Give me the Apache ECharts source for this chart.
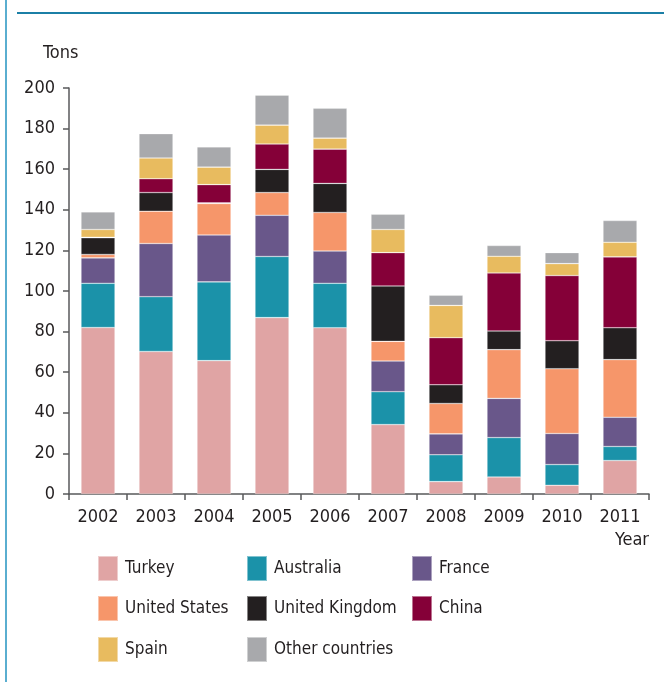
<!DOCTYPE html>
<html>
<head>
<meta charset="utf-8">
<script src="https://cdn.jsdelivr.net/npm/echarts@6/dist/echarts.min.js"></script>
<style>
  html, body { margin: 0; padding: 0; background: #fff; }
  #main { width: 664px; height: 682px; }
</style>
</head>
<body>
<div id="main"></div>
<script>
// tons per year
const years = ['2002', '2003', '2004', '2005', '2006', '2007', '2008', '2009', '2010', '2011'];
const turkey       = [82.0, 70.2, 65.7, 86.9, 81.9, 34.2,  6.1,  8.4,  4.3, 16.5];
const australia    = [21.8, 27.0, 38.8, 30.1, 21.9, 16.2, 13.2, 19.4, 10.2,  6.9];
const france       = [12.5, 26.2, 23.1, 20.3, 15.9, 15.1, 10.3, 19.3, 15.3, 14.4];
const unitedStates = [ 1.7, 15.9, 15.5, 11.2, 19.0,  9.7, 15.0, 24.0, 31.9, 28.4];
const unitedKingdom= [ 8.2,  9.2,  0.3, 11.4, 14.3, 27.3,  9.2,  9.2, 13.8, 15.7];
const china        = [ 0.3,  6.8,  9.0, 12.5, 16.9, 16.4, 23.2, 28.6, 32.1, 34.9];
const spain        = [ 3.8, 10.2,  8.6,  9.3,  5.4, 11.4, 15.9,  8.2,  5.9,  7.2];
const others       = [ 8.7, 12.0, 10.0, 14.8, 14.7,  7.5,  5.0,  5.3,  5.4, 10.7];

const names  = ['Turkey', 'Australia', 'France', 'United States', 'United Kingdom', 'China', 'Spain', 'Other countries'];
const values = [turkey, australia, france, unitedStates, unitedKingdom, china, spain, others];
const colors = ['#e0a4a4', '#1b92a9', '#69578a', '#f6966a', '#231f20', '#850038', '#e8bb5f', '#a8a9ac'];

const FONT = '"Liberation Sans Narrow", "DejaVu Sans Condensed", sans-serif';
const TXT = '#231f20';

// legend slots: [left, top]
const slots = [
  [97, 555], [246, 555], [411, 555],
  [97, 595], [246, 595], [411, 595],
  [97, 636], [246, 636]
];

const chart = echarts.init(document.getElementById('main'));

const series = names.map((n, i) => ({
  name: n,
  type: 'bar',
  stack: 'total',
  data: values[i],
  barWidth: 34,
  itemStyle: { color: colors[i], borderColor: 'rgba(255,255,255,0.45)', borderWidth: 0.6 },
  emphasis: { disabled: true }
}));

const legends = names.map((n, i) => ({
  data: [n],
  left: slots[i][0],
  top: slots[i][1],
  padding: 0,
  orient: 'horizontal',
  icon: 'rect',
  itemWidth: 20,
  itemHeight: 25,
  itemGap: 0,
  selectedMode: false,
  textStyle: { fontFamily: FONT, fontSize: 17, color: TXT, padding: [0, 0, 0, 2] }
}));

chart.setOption({
  animation: false,
  textStyle: { fontFamily: FONT },
  color: colors,
  legend: legends,
  grid: { left: 69, right: 15, top: 88, bottom: 188, containLabel: false },
  xAxis: {
    type: 'category',
    data: years,
    name: 'Year',
    nameLocation: 'end',
    nameGap: 0,
    nameTextStyle: { fontFamily: FONT, fontSize: 18, color: TXT, align: 'right', verticalAlign: 'top', padding: [37, 0, 0, 0] },
    axisLine: { lineStyle: { color: '#58595b', width: 1.5 } },
    axisTick: { show: true, length: 6, inside: false, lineStyle: { color: '#58595b', width: 1.5 } },
    axisLabel: { fontFamily: FONT, fontSize: 18, color: TXT, margin: 14 }
  },
  yAxis: {
    type: 'value',
    min: 0,
    max: 200,
    interval: 20,
    name: 'Tons',
    nameLocation: 'end',
    nameGap: 26,
    nameTextStyle: { fontFamily: FONT, fontSize: 18, color: TXT, align: 'left', padding: [0, 0, 0, -26] },
    axisLine: { show: true, lineStyle: { color: '#58595b', width: 1.5 } },
    axisTick: { show: true, length: 6, lineStyle: { color: '#58595b', width: 1.5 } },
    splitLine: { show: false },
    axisLabel: { fontFamily: FONT, fontSize: 18, color: TXT, margin: 14 }
  },
  graphic: [
    { type: 'rect', shape: { x: 5, y: 0, width: 2, height: 682 }, style: { fill: '#5aaed0' }, silent: true },
    { type: 'rect', shape: { x: 17, y: 12, width: 647, height: 2 }, style: { fill: '#1b7fa6' }, silent: true }
  ],
  series: series
});
</script>
</body>
</html>
